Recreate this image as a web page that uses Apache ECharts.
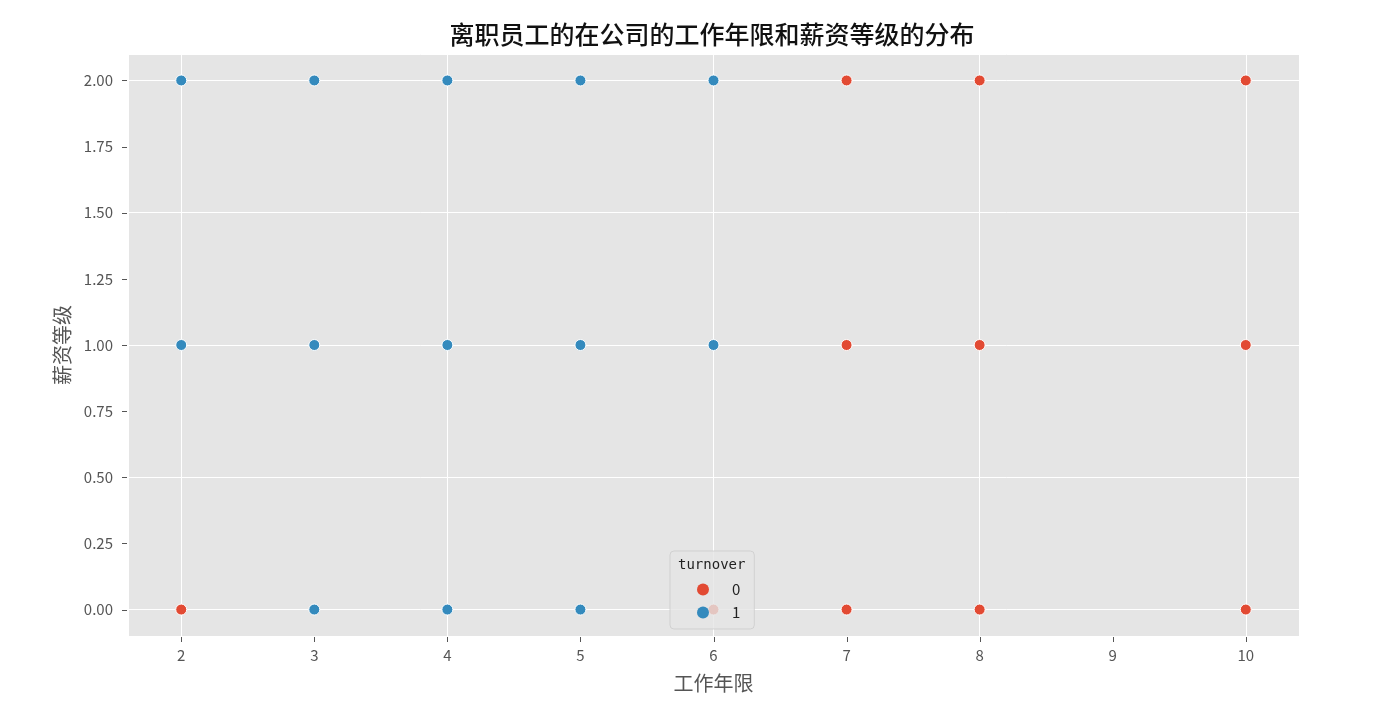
<!DOCTYPE html>
<html>
<head>
<meta charset="utf-8">
<script src="https://cdn.jsdelivr.net/npm/echarts@6/dist/echarts.min.js"></script>
<style>
  html, body { margin: 0; padding: 0; background: #fff; }
  #chart { width: 1386px; height: 726px; }
</style>
</head>
<body>
<div id="chart"></div>
<script>
// 工作年限 / 薪资等级 for each turnover group
const years0 = [2, 6, 7, 7, 7, 8, 8, 8, 10, 10, 10]
const salary0 = [0, 0, 2, 1, 0, 2, 1, 0, 2, 1, 0]
const years1 = [2, 2, 3, 3, 3, 4, 4, 4, 5, 5, 5, 6, 6]
const salary1 = [2, 1, 2, 1, 0, 2, 1, 0, 2, 1, 0, 2, 1]
const xTicks = [2, 3, 4, 5, 6, 7, 8, 9, 10]
const yTicks = [0, 0.25, 0.5, 0.75, 1, 1.25, 1.5, 1.75, 2]
const xRange = [1.6, 10.4]
const yRange = [-0.1, 2.1]

const chart = echarts.init(document.getElementById('chart'))
const font = '"Noto Sans CJK SC", sans-serif'

const pointStyle = (color) => ({
  color: color,
  opacity: 1,
  borderColor: '#fff',
  borderWidth: 1
})

const option = {
  animation: false,
  title: [{
    text: '离职员工的在公司的工作年限和薪资等级的分布',
    left: 712,
    top: 22,
    padding: 0,
    textAlign: 'center',
    textStyle: { fontFamily: font, fontSize: 25, fontWeight: 500, color: '#111' }
  }, {
    text: 'turnover',
    left: 678,
    top: 558,
    padding: 0,
    textStyle: { fontFamily: '"DejaVu Sans Mono", monospace', fontSize: 14, fontWeight: 'normal', color: '#222' },
    z: 10
  }],
  legend: {
    orient: 'vertical',
    left: 670,
    top: 551,
    padding: [31, 14, 9, 27],
    itemGap: 8,
    itemWidth: 12,
    itemHeight: 12,
    backgroundColor: 'rgba(229,229,229,0.8)',
    borderColor: 'rgba(204,204,204,0.8)',
    borderWidth: 1,
    borderRadius: 4,
    textStyle: { fontFamily: font, fontSize: 15, color: '#222', padding: [0, 0, 0, 18] },
    data: [
      { name: '0', icon: 'circle', itemStyle: { color: '#E24A33', borderWidth: 0 } },
      { name: '1', icon: 'circle', itemStyle: { color: '#348ABD', borderWidth: 0 } }
    ]
  },
  grid: {
    left: 128,
    right: 87,
    top: 54,
    bottom: 90,
    show: true,
    backgroundColor: '#E5E5E5',
    borderWidth: 0
  },
  xAxis: {
    type: 'value',
    min: xRange[0],
    max: xRange[1],
    name: '工作年限',
    nameLocation: 'middle',
    nameGap: 37,
    nameTextStyle: { fontFamily: font, fontSize: 20, color: '#555' },
    axisLine: { show: false, onZero: false },
    axisTick: { show: false },
    axisLabel: { fontFamily: font, fontSize: 15, color: '#555', margin: 12, customValues: xTicks },
    splitLine: { show: true, lineStyle: { color: '#fff', width: 1 } }
  },
  yAxis: {
    type: 'value',
    min: yRange[0],
    max: yRange[1],
    name: '薪资等级',
    nameLocation: 'middle',
    nameGap: 56,
    nameTextStyle: { fontFamily: font, fontSize: 20, color: '#555' },
    axisLine: { show: false, onZero: false },
    axisTick: { show: false },
    axisLabel: {
      fontFamily: font, fontSize: 15, color: '#555', margin: 15,
      customValues: yTicks,
      formatter: v => v.toFixed(2)
    },
    splitLine: { show: true, lineStyle: { color: '#fff', width: 1 } }
  },
  series: [{
    name: '0',
    type: 'scatter',
    symbolSize: 11,
    itemStyle: pointStyle('#E24A33'),
    data: years0.map((x, i) => [x, salary0[i]])
  }, {
    name: '1',
    type: 'scatter',
    symbolSize: 11,
    itemStyle: pointStyle('#348ABD'),
    data: years1.map((x, i) => [x, salary1[i]])
  }]
}

chart.setOption(option)

// outside tick marks as thin rects, placed through the grid's own scales
const tickLen = 5
const corner = chart.convertToPixel({ gridIndex: 0 }, [xRange[0], yRange[0]])
const leftX = Math.round(corner[0])
const bottomY = Math.round(corner[1])
const tickRect = (x, y, width, height) => ({
  type: 'rect',
  silent: true,
  z: 100,
  shape: { x, y, width, height },
  style: { fill: '#555' }
})
const ticks = []
xTicks.forEach(v => {
  const x = Math.round(chart.convertToPixel({ gridIndex: 0 }, [v, yRange[0]])[0])
  ticks.push(tickRect(x, bottomY + 1, 1, tickLen))
})
yTicks.forEach(v => {
  const y = Math.round(chart.convertToPixel({ gridIndex: 0 }, [xRange[0], v])[1])
  ticks.push(tickRect(leftX - tickLen - 1, y, tickLen, 1))
})
chart.setOption({ graphic: { elements: ticks } })
</script>
</body>
</html>
